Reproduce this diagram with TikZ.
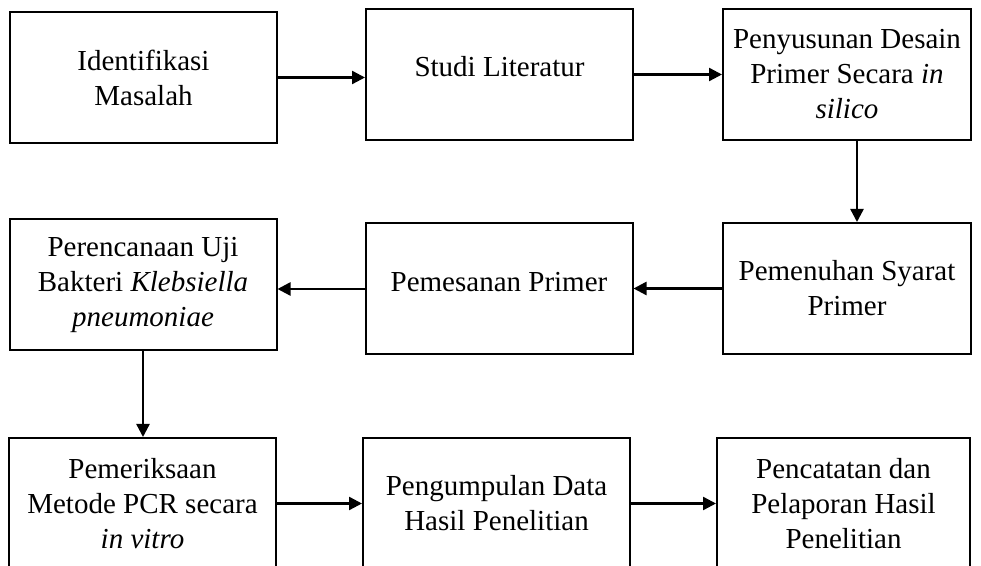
\documentclass[tikz,border=0pt]{standalone}
\usepackage{fontspec}
\setmainfont{Liberation Serif}
\usetikzlibrary{arrows.meta}
\tikzset{
	box/.style={draw, line width=1pt, minimum width=133.5pt, minimum height=65.5pt,
		inner sep=0pt, align=center, font=\fontsize{14.5}{17.5}\selectfont},
	arr/.style={line width=1.2pt, -{Triangle[length=6.5pt,width=6.5pt]}}
}
\begin{document}
\begin{tikzpicture}[x=0.5pt, y=-0.5pt]
			\clip (0, 0) rectangle (981, 566);
			\fill[white] (0, 0) rectangle (981, 566);

			%%draw the boxes
			%%first row
			\node[box] (ident) at (143.5, 77.5){Identifikasi\\Masalah};
			\node[box, text depth=8pt] (studi) at (499.5, 74.5){Studi Literatur};
			\node[box, minimum width=124pt] (desain) at (847, 74.5){Penyusunan Desain\\Primer Secara \textit{in}\\\textit{silico}};

			%%second row
			\node[box] (uji) at (143, 284.5){Perencanaan Uji\\Bakteri \textit{Klebsiella}\\\textit{pneumoniae}};
			\node[box, text depth=7pt] (pesan) at (499, 289){Pemesanan Primer};
			\node[box, minimum width=124pt] (syarat) at (847, 288.5){Pemenuhan Syarat\\Primer};

			%%third row
			\node[box] (pcr) at (142.5, 503.5){Pemeriksaan\\Metode PCR secara\\\textit{in vitro}};
			\node[box] (data) at (496.5, 503.5){Pengumpulan Data\\Hasil Penelitian};
			\node[box, minimum width=126.5pt] (lapor) at (843.5, 503.5){Pencatatan dan\\Pelaporan Hasil\\Penelitian};

			%%draw the arrows
			\draw[arr] (ident.east) -- (ident.east -| studi.west);
			\draw[arr] (studi.east) -- (studi.east -| desain.west);
			\draw[arr] ([xshift=5pt]desain.south) -- ([xshift=5pt]desain.south |- syarat.north);
			\draw[arr] (syarat.west) -- (syarat.west -| pesan.east);
			\draw[arr] (pesan.west) -- (pesan.west -| uji.east);
			\draw[arr] (uji.south) -- (uji.south |- pcr.north);
			\draw[arr] (pcr.east) -- (pcr.east -| data.west);
			\draw[arr] (data.east) -- (data.east -| lapor.west);
\end{tikzpicture}
\end{document}
